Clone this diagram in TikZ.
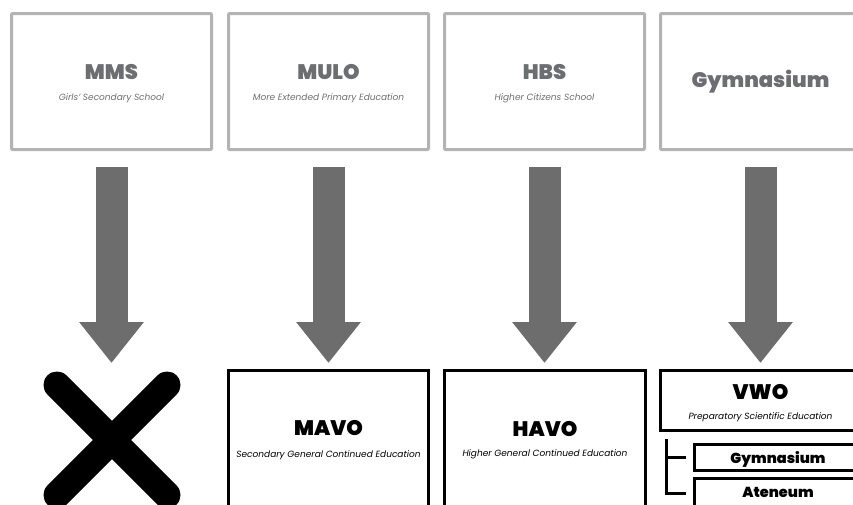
\documentclass[tikz,border=0pt]{standalone}
\usepackage{fontspec}
\setmainfont{Poppins}
\newfontfamily\heavyfont{Poppins Black}
\usetikzlibrary{arrows.meta}
\definecolor{boxgray}{HTML}{B3B3B3}
\definecolor{txtgray}{HTML}{6D6E71}
\definecolor{arrowgray}{HTML}{6D6D6D}

\begin{document}
\begin{tikzpicture}[x=1pt, y=-1pt, line join=miter]
\tikzstyle{oldschool}=[draw=boxgray, line width=3pt, minimum width=200pt, minimum height=136pt, inner sep=0pt, rounded corners=1pt]
\tikzstyle{newschool}=[draw=black, line width=3pt, inner sep=0pt]
\tikzstyle{heading}=[font=\heavyfont\fontsize{21}{24}\selectfont, inner sep=0pt]
\tikzstyle{smallheading}=[font=\heavyfont\fontsize{14.5}{17}\selectfont, inner sep=0pt]
\tikzstyle{subheading}=[font=\fontsize{9}{11}\selectfont\itshape, inner sep=0pt]
\tikzstyle{transition}=[line width=32pt, arrowgray, -{Triangle[width=62pt,length=41pt]}, shorten <=16pt, shorten >=6pt]
\useasboundingbox (0,0) rectangle (853,504);
\clip (0,0) rectangle (853,504);

% old system
\node[oldschool] (mms) at (111.5,81.5) {};
\node[oldschool] (mulo) at (328.5,81.5) {};
\node[oldschool] (hbs) at (544.5,81.5) {};
\node[oldschool] (gym) at (760.5,81.5) {};
\node[heading, txtgray] (mmstitle) at (111.5,72) {MMS};
\node[subheading, txtgray] (mmssub) at (111.5,98) {Girls' Secondary School};
\node[heading, txtgray] (mulotitle) at (328.5,72) {MULO};
\node[subheading, txtgray] (mulosub) at (328.5,98) {More Extended Primary Education};
\node[heading, txtgray] (hbstitle) at (544.5,72) {HBS};
\node[subheading, txtgray] (hbssub) at (544.5,98) {Higher Citizens School};
\node[heading, txtgray] (gymtitle) at (760.5,82) {Gymnasium};

% new system
\coordinate (gone) at (111.5,369);
\node[newschool, minimum width=200pt, minimum height=190pt] (mavo) at (328.5,465.5) {};
\node[newschool, minimum width=201pt, minimum height=190pt] (havo) at (545,465.5) {};
\node[newschool, minimum width=201pt, minimum height=60pt] (vwo) at (761,400.5) {};
\node[newschool, minimum width=167pt, minimum height=26pt] (gymsub) at (778,457.5) {};
\node[newschool, minimum width=167pt, minimum height=61pt] (ateneum) at (778,509) {};
\node[heading] (mavotitle) at (328.5,428) {MAVO};
\node[subheading] (mavosub) at (328.5,455) {Secondary General Continued Education};
\node[heading] (havotitle) at (545,429) {HAVO};
\node[subheading] (havosub) at (545,454) {Higher General Continued Education};
\node[heading] (vwotitle) at (760.5,392) {VWO};
\node[subheading] (vwosub) at (760.5,417) {Preparatory Scientific Education};
\node[smallheading] (gymsubtitle) at (778,459) {Gymnasium};
\node[smallheading] (ateneumtitle) at (778,492) {Ateneum};

% abolished
\draw[line width=27pt, line cap=round] (57,385) -- (167,495);
\draw[line width=27pt, line cap=round] (167,385) -- (57,495);

% transitions
\draw[transition] (mms.south) -- (gone);
\draw[transition] (mulo.south) -- (mavo.north);
\draw[transition] (hbs.south) -- (hbs.south |- havo.north);
\draw[transition] (gym.south) -- (gym.south |- vwo.north);

% vwo streams
\coordinate (brtop) at (666,439);
\coordinate (brbot) at (686,493);
\draw[line width=3pt] (brtop) |- (brbot);
\draw[line width=3pt] (brtop |- gymsub.west) -- ([xshift=-7pt]gymsub.west);
\end{tikzpicture}
\end{document}
